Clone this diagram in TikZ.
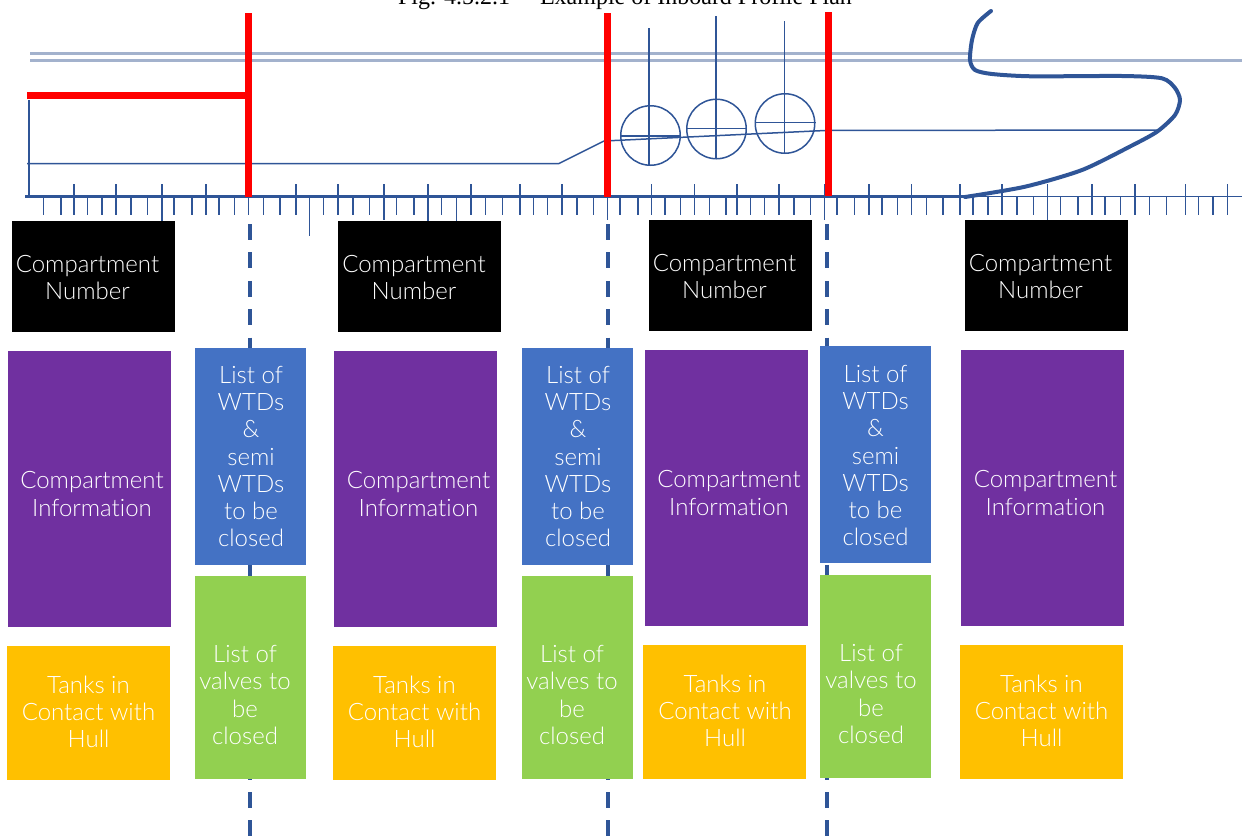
\documentclass[tikz,border=0pt]{standalone}
\usepackage{fontspec}
\setmainfont{Liberation Serif}
\newfontfamily\boxfont[UprightFont=* Light,Ligatures=NoCommon]{Lato}
\definecolor{navy}{HTML}{2F5597}
\definecolor{pale}{HTML}{A3B2CD}
\definecolor{cpurple}{HTML}{7030A0}
\definecolor{cblue}{HTML}{4472C4}
\definecolor{cgreen}{HTML}{92D050}
\definecolor{corange}{HTML}{FFC000}
\tikzset{
  px/.style={line width=#1*0.75pt},
  thinline/.style={draw=navy,px=1.5},
  tick/.style={draw=navy,px=1.5},
  deck/.style={draw=pale,px=3},
  redline/.style={draw=red,px=7},
  bulk/.style={draw=navy,px=4,dash pattern=on 12pt off 9.3pt},
  label/.style={text=white,align=center,font=\boxfont\fontsize{18pt}{20.3pt}\selectfont,inner sep=0pt},
}
% name, colour, x1, y1, x2, y2, text x, text y, text
\newcommand{\panel}[9]{%
  \path[fill=#2] (#3,#4) rectangle (#5,#6);
  \node[label] (#1) at (#7,#8) {#9};
}
\newcommand{\listwtd}{List of\\WTDs\\\&\\semi\\WTDs\\to be\\closed}
\newcommand{\listvalve}{List of\\valves to\\be\\closed}
\newcommand{\cnum}{Compartment\\Number}
\newcommand{\cinfo}{Compartment\\Information}
\newcommand{\tanks}{Tanks in\\Contact with\\Hull}
\begin{document}
\begin{tikzpicture}[x=0.75pt,y=-0.75pt]
\useasboundingbox (0,0) rectangle (1242,836);
\clip (0,0) rectangle (1242,836);
\node[font=\fontsize{18pt}{20pt}\selectfont,anchor=base,inner sep=0pt] (title) at (625,4) {Fig. 4.5.2.1\hspace{1.25em}Example of Inboard Profile Plan};
% decks
\draw[deck] (30,53.5) -- (969,53.5);
\draw[deck] (30,60) -- (1242,60);
% scale
\draw[thinline] (29,100) -- (29,196);
\draw[thinline] (27,163.5) -- (559,163.5) -- (604,141) -- (825,130.5) -- (1160,130);
\foreach \x in {43.3,61,74,87.3,102,116,131,147.7,174,192,206,219,234.7,248.7,263.3,280,296,323.7,338,353,369.7,396.7,414,441.3,471,485.7,502.3,520,533.3,547.7,562,577,593.3,620,638,651.7,665,680.7,694.7,709.3,726,737,750.3,764.7,779,794,810.3,837,854.7,869,882,897.7,911.7,926.3,943,960,973,988,1002,1017,1033.3,1060.3,1078,1092,1105,1120.7,1135,1149.3,1166.3,1185.3,1198.7,1213,1227.7}
  \draw[tick] (\x,196) -- (\x,214.5);
\foreach \x in {74,116,162,206,296,338,384,428,471,520,562,651.7,694.7,737,779,824.7,869,911.7,960,1002,1047.7,1092,1135,1185.3,1227.7}
  \draw[tick] (\x,184) -- (\x,197);
\foreach \x/\y in {162/222,309.3/236,384/220,428/222,456.7/222,607.7/220,824.7/220,1047.7/222}
  \draw[tick] (\x,196) -- (\x,\y);
\draw[navy,px=1.5] (960,196.5) -- (1242,196.5);
\draw[navy,px=3.5] (25,196.5) -- (966,196.5);
% rudder stocks and circles
\foreach \n/\cx/\cy/\vx/\vt/\vb/\hy in {a/650.5/135.5/649/28/165/136,b/716.5/129/716/16/159/128.5,c/785/123.5/784.5/21/153/122.7}{
  \node[circle,draw=navy,px=1.5,minimum size=59.5*0.75pt,inner sep=0pt] (prop\n) at (\cx,\cy) {};
  \draw[thinline] (\vx,\vt) -- (\vx,\vb);
  \draw[thinline] (prop\n.west |- 0,\hy) -- (prop\n.east |- 0,\hy);
}
% hull
\draw[navy,px=4,line cap=round,line join=round] plot[smooth,tension=0.45] coordinates {(991,11) (977.7,23) (972,40) (970,60) (975,70) (992,74) (1032,76.3) (1122,76) (1162,78.3) (1175,88) (1180,100) (1175,115) (1157,131.7) (1130,146.5) (1082,170) (1025,186.7) (965,197)};
% bulkheads
\coordinate (d1t) at (249.5,224); \coordinate (d1b) at (249.5,836);
\coordinate (d2t) at (607.5,224); \coordinate (d2b) at (607.5,836);
\coordinate (d3t) at (827,224);   \coordinate (d3b) at (827,836);
\draw[bulk] (d1t) -- (d1b);
\draw[bulk] (d2t) -- (d2b);
\draw[bulk] (d3t) -- (d3b);
\draw[redline] (27,95.5) -- (248.5,95.5);
\draw[redline] (248.5,13) -- (248.5,197);
\draw[redline] (607.5,13) -- (607.5,197);
\draw[redline] (828.5,12) -- (828.5,196);
% panels
\panel{n1}{black}{12}{221}{175}{332}{87.5}{277.5}{\cnum}
\panel{i1}{cpurple}{8}{351}{171}{627}{92}{494}{\cinfo}
\panel{t1}{corange}{7}{646}{170}{780}{88.5}{712}{\tanks}
\panel{w1}{cblue}{195}{348}{306}{565}{251}{456.5}{\listwtd}
\panel{v1}{cgreen}{195}{576}{306}{779}{245}{695}{\listvalve}
\panel{n2}{black}{338}{221}{501}{332}{414}{277.5}{\cnum}
\panel{i2}{cpurple}{334}{351}{497}{627}{418.5}{494}{\cinfo}
\panel{t2}{corange}{333}{646}{496}{780}{414.5}{712}{\tanks}
\panel{w2}{cblue}{522}{348}{633}{565}{578}{456.5}{\listwtd}
\panel{v2}{cgreen}{522}{576}{633}{779}{572}{695}{\listvalve}
\panel{n3}{black}{649}{220}{812}{331}{724.5}{276.5}{\cnum}
\panel{i3}{cpurple}{645}{350}{808}{626}{729}{493}{\cinfo}
\panel{t3}{corange}{643}{645}{806}{779}{725}{710.5}{\tanks}
\panel{w3}{cblue}{820}{346}{931}{563}{875.5}{455.5}{\listwtd}
\panel{v3}{cgreen}{820}{575}{931}{778}{871}{694}{\listvalve}
\panel{n4}{black}{965}{220}{1128}{331}{1040.5}{276.5}{\cnum}
\panel{i4}{cpurple}{961}{350}{1124}{626}{1045.5}{493}{\cinfo}
\panel{t4}{corange}{960}{645}{1123}{779}{1041.5}{710.5}{\tanks}
\end{tikzpicture}
\end{document}
